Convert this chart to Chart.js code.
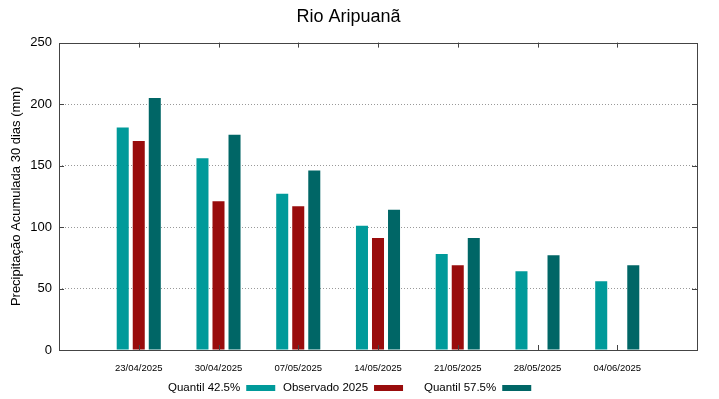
<!DOCTYPE html>
<html>
<head>
<meta charset="utf-8">
<script src="https://cdn.jsdelivr.net/npm/chart.js@4"></script>
<style>
  html, body { margin: 0; padding: 0; background: #fff; }
  #wrap { width: 719px; height: 399px; }
</style>
</head>
<body>
<div id="wrap"><canvas id="barChart" width="719" height="399"></canvas></div>
<script>
const ctx = document.getElementById('barChart').getContext('2d');

const dates = ['23/04/2025', '30/04/2025', '07/05/2025', '14/05/2025', '21/05/2025', '28/05/2025', '04/06/2025']
const quantil425 = [181, 156, 127, 101, 78, 64, 56]
const observado = [170, 121, 117, 91, 69, null, null]
const quantil575 = [205, 175, 146, 114, 91, 77, 69]
const yTicks = [0, 50, 100, 150, 200, 250]

const seriesNames = ['Quantil 42.5%', 'Observado 2025', 'Quantil 57.5%']
const colors = ['#009a9a', '#990c0c', '#006666']

// empty slot on each side, like gnuplot's xrange
const pad = arr => [null, ...arr, null]
const labels = ['', ...dates, '']

const font = 'Liberation Sans, Arial, sans-serif'

// box, mirrored inward ticks and a legend with the swatch after the text
const frame = {
    id: 'frame',
    afterDraw(chart) {
        const { ctx, chartArea: a, scales } = chart
        ctx.save()
        ctx.strokeStyle = '#444'
        ctx.lineWidth = 1
        ctx.beginPath()
        yTicks.forEach(v => {
            const y = Math.round(scales.y.getPixelForValue(v)) + 0.5
            ctx.moveTo(a.left, y); ctx.lineTo(a.left + 5, y)
            ctx.moveTo(a.right, y); ctx.lineTo(a.right - 5, y)
        })
        dates.forEach((d, i) => {
            const x = Math.round(scales.x.getPixelForValue(i + 1)) + 0.5
            ctx.moveTo(x, a.top); ctx.lineTo(x, a.top + 5)
            ctx.moveTo(x, a.bottom); ctx.lineTo(x, a.bottom - 5)
        })
        ctx.stroke()
        ctx.strokeRect(Math.round(a.left) + 0.5, Math.round(a.top) + 0.5, Math.round(a.right - a.left), Math.round(a.bottom - a.top))

        // legend
        ctx.font = '11.5px ' + font
        ctx.textBaseline = 'middle'
        const legendY = 388
        const starts = [168, 283, 424]
        seriesNames.forEach((name, i) => {
            ctx.fillStyle = '#000'
            ctx.textAlign = 'left'
            ctx.fillText(name, starts[i], legendY)
            const w = ctx.measureText(name).width
            ctx.fillStyle = colors[i]
            ctx.fillRect(starts[i] + w + 6, legendY - 3, 29, 6)
        })
        ctx.restore()
    }
}

const data = {
    labels,
    datasets: [
        { label: seriesNames[0], data: pad(quantil425), backgroundColor: colors[0] },
        { label: seriesNames[1], data: pad(observado), backgroundColor: colors[1] },
        { label: seriesNames[2], data: pad(quantil575), backgroundColor: colors[2] },
    ],
}

const config = {
    type: 'bar',
    data,
    options: {
        responsive: false,
        animation: false,
        categoryPercentage: 0.603,
        barPercentage: 0.75,
        layout: { padding: { left: 0, right: 22, top: 0, bottom: 0 } },
        plugins: {
            legend: { display: false },
            tooltip: { enabled: false },
            title: {
                display: true,
                text: 'Rio Aripuanã',
                color: '#000',
                font: { family: font, size: 18, weight: 'normal' },
                padding: { top: 6, bottom: 15 },
            },
        },
        scales: {
            x: {
                offset: false,
                grid: { display: false, drawTicks: false },
                border: { display: false },
                afterFit: s => { s.height = 49 },
                ticks: {
                    color: '#000',
                    padding: 13,
                    autoSkip: false,
                    maxRotation: 0,
                    font: { family: font, size: 9.5 },
                },
            },
            y: {
                min: 0,
                max: 250,
                afterFit: s => { s.width = 59 },
                afterBuildTicks: s => { s.ticks = yTicks.map(v => ({ value: v })) },
                grid: {
                    drawTicks: false,
                    color: c => (c.tick.value === 0 || c.tick.value === 250) ? 'rgba(0,0,0,0)' : '#999',
                    lineWidth: 1,
                },
                border: { display: false, dash: [1, 2] },
                ticks: {
                    color: '#000',
                    padding: 7,
                    font: { family: font, size: 13 },
                },
                title: {
                    display: true,
                    text: 'Precipitação Acumulada 30 dias (mm)',
                    color: '#000',
                    font: { family: font, size: 13 },
                    padding: { top: 9, bottom: 0 },
                },
            },
        },
    },
    plugins: [frame],
}

const myChart = new Chart(ctx, config)
</script>
</body>
</html>
